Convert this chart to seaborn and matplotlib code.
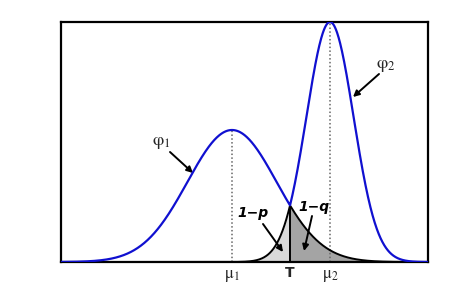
import numpy as np
import pandas as pd
import matplotlib
matplotlib.use("Agg")
import matplotlib.pyplot as plt
import seaborn as sns

# ---- data ----
curve_names = ["phi1", "phi2"]
means = [0.0, 2.0]
sigmas = [0.91, 0.48]
amplitudes = [0.55, 1.0]
threshold = 1.18
tick_positions = [0.0, 1.18, 2.0]
tick_labels = [r"$\mathrm{\mu}_1$", "T", r"$\mathrm{\mu}_2$"]
x_limits = (-3.49, 4.0)

sns.set_style("white")
plt.rcParams["mathtext.fontset"] = "stix"
plt.rcParams["font.family"] = ["DejaVu Sans"]

x = np.linspace(x_limits[0], x_limits[1], 1200)
def gauss(xv, m, s, a):
    return a * np.exp(-(xv - m) ** 2 / (2 * s ** 2))

f1 = gauss(x, means[0], sigmas[0], amplitudes[0])
f2 = gauss(x, means[1], sigmas[1], amplitudes[1])
upper = np.maximum(f1, f2)
lower = np.minimum(f1, f2)
df = pd.DataFrame({"x": x, "upper": upper, "lower": lower})

fig = plt.figure(figsize=(4.74, 2.96), dpi=100)
ax = fig.add_axes([61 / 474, 34 / 296, 367 / 474, 240 / 296])

# shaded tails
left = x <= threshold
right = x >= threshold
ax.fill_between(x[left], 0, f2[left], color="#dadada", lw=0, zorder=1)
ax.fill_between(x[right], 0, f1[right], color="#a4a4a4", lw=0, zorder=1)

sns.lineplot(data=df, x="x", y="lower", ax=ax, color="black", lw=1.4, zorder=3)
sns.lineplot(data=df, x="x", y="upper", ax=ax, color="#1010d0", lw=1.6, zorder=4)

# dotted mean lines
for m, s, a in zip(means, sigmas, amplitudes):
    ax.plot([m, m], [0, a], color="#666666", ls=(0, (1, 1.5)), lw=1.1, zorder=2)

# threshold line
tv = min(gauss(threshold, means[0], sigmas[0], amplitudes[0]),
         gauss(threshold, means[1], sigmas[1], amplitudes[1]))
ax.plot([threshold, threshold], [0, tv], color="black", lw=1.4, zorder=3)

ax.set_xlim(*x_limits)
ax.set_ylim(0, 1.0)
ax.set_xlabel("")
ax.set_ylabel("")
ax.set_yticks([])
ax.set_xticks(tick_positions)
ax.set_xticklabels(tick_labels)
ax.tick_params(axis="x", length=0, pad=3)
for lab in ax.get_xticklabels():
    if lab.get_text() == "T":
        lab.set_fontweight("bold")
        lab.set_fontsize(10)
    else:
        lab.set_fontsize(12)
for sp in ax.spines.values():
    sp.set_color("black")
    sp.set_linewidth(1.6)

def px(xp, yp):
    return ((xp - 232) / 49.0, (262 - yp) / 240.0)

arrow = dict(arrowstyle="-|>", color="black", lw=1.4, mutation_scale=9,
             shrinkA=0, shrinkB=0)
ax.annotate("", xy=px(193, 173), xytext=px(170, 152), arrowprops=arrow)
ax.text(*px(161, 142), r"$\mathrm{\varphi}_1$", fontsize=13, ha="center", va="center")
ax.annotate("", xy=px(353, 97), xytext=px(379, 74), arrowprops=arrow)
ax.text(*px(386, 65), r"$\mathrm{\varphi}_2$", fontsize=13, ha="center", va="center")
ax.annotate("", xy=px(283, 252), xytext=px(263, 224), arrowprops=arrow)
ax.text(*px(253, 213), "1\u2212p", fontsize=10, fontweight="bold",
        fontstyle="italic", ha="center", va="center", color="black")
ax.annotate("", xy=px(304, 251), xytext=px(312, 216), arrowprops=arrow)
ax.text(*px(314, 207), "1\u2212q", fontsize=10, fontweight="bold",
        fontstyle="italic", ha="center", va="center", color="black")

fig.savefig("out.png", dpi=100)
